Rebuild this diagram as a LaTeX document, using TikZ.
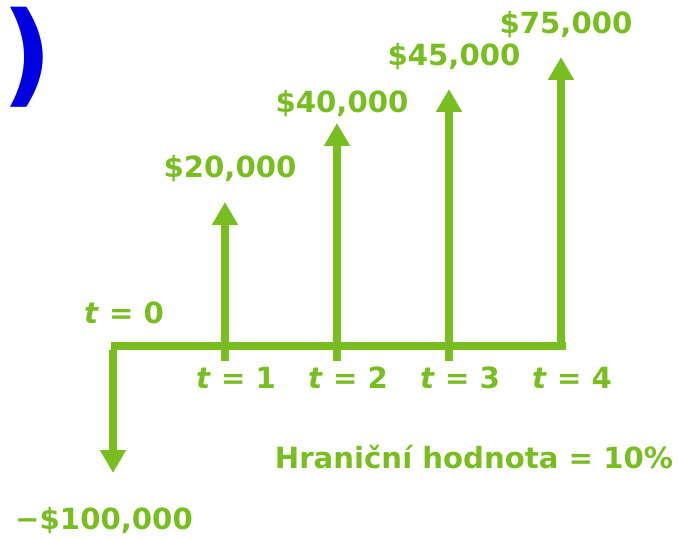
\documentclass[tikz,border=0pt]{standalone}
\usepackage{fontspec}
\setmainfont{DejaVu Sans}
\usetikzlibrary{arrows.meta,positioning}
\definecolor{cfgreen}{RGB}{120,190,32}
\definecolor{titleblue}{RGB}{0,0,225}

\begin{document}
\begin{tikzpicture}[
  x=0.02cm, y=-0.02cm,
  lbl/.style={text=cfgreen, font=\bfseries\fontsize{16.6}{18}\selectfont, inner sep=0pt},
  flow/.style={draw=cfgreen, line width=5pt, -{Triangle[width=14pt,length=13pt]}},
  axis/.style={draw=cfgreen, line width=5pt}
]
\useasboundingbox (0,0) rectangle (680,538);

% title remnant
\node[text=titleblue, font=\bfseries\fontsize{64}{70}\selectfont, anchor=east, inner sep=0pt] (ttl) at (53,57) {R)};

% time axis
\coordinate (t0) at (111,346);
\coordinate (t4) at (566,346);
\coordinate (out) at (113,473);
\draw[axis] (t0) -- (t4);
\draw[flow] ([yshift=-2.5pt]113,346) -- (out);

% cash flows
\coordinate (b1) at (225,361);  \coordinate (a1) at (225,202);
\coordinate (b2) at (337,361);  \coordinate (a2) at (337,123);
\coordinate (b3) at (449,361);  \coordinate (a3) at (449,89);
\coordinate (b4) at (561,349);  \coordinate (a4) at (561,57);
\draw[flow] (b1) -- (a1);
\draw[flow] (b2) -- (a2);
\draw[flow] (b3) -- (a3);
\draw[flow] (b4) -- (a4);

\node[lbl] (v1) at (230,169) {\$20,000};
\node[lbl] (v2) at (342,104) {\$40,000};
\node[lbl] (v3) at (454,57)  {\$45,000};
\node[lbl] (v4) at (566,25)  {\$75,000};
\node[lbl] (v0) at (104,521) {−\$100,000};

\node[lbl] (l0) at (124,313) {\textit{t} = 0};
\node[lbl] (l1) at (236,378) {\textit{t} = 1};
\node[lbl] (l2) at (348,378) {\textit{t} = 2};
\node[lbl] (l3) at (460,378) {\textit{t} = 3};
\node[lbl] (l4) at (572,378) {\textit{t} = 4};

\node[lbl] (rate) at (474,457) {Hraniční hodnota = 10\%};

\end{tikzpicture}
\end{document}
